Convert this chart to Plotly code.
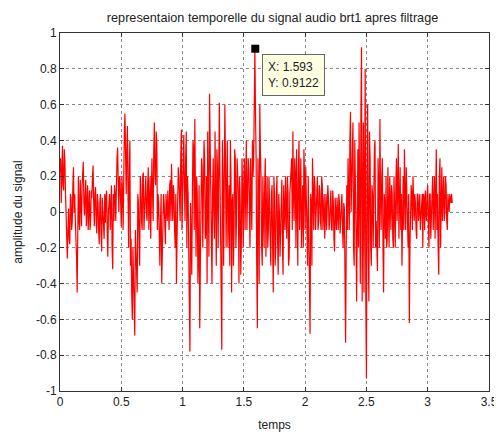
import numpy as np
import plotly.graph_objects as go

# signal audio filtre : echantillons tous les 10 ms
# plus les echantillons intermediaires (decales de 5 ms)
dt = 0.01
amplitude = [
    0.22, 0.05, 0.37, 0.12, 0.28, -0.05, -0.26, 0.02, -0.18, 0.08,
    -0.05, 0.25, 0.1, -0.12, -0.45, 0.2, -0.1, 0.05, 0.15, 0.28,
    -0.02, 0.18, 0.0, -0.1, 0.12, -0.05, 0.08, 0.26, -0.08, 0.14,
    -0.12, 0.05, -0.18, 0.1, -0.22, 0.02, -0.15, -0.06, 0.12, -0.25,
    0.05, -0.1, 0.15, -0.32, -0.05, 0.1, 0.2, 0.36, 0.0, 0.18,
    -0.08, 0.12, 0.3, 0.55, 0.1, 0.48, -0.2, 0.4, -0.15, -0.6,
    -0.35, -0.69, -0.2, -0.45, 0.05, -0.3, 0.15, -0.1, 0.22, 0.05,
    0.2, -0.05, 0.25, 0.1, -0.15, 0.3, -0.05, 0.5, 0.15, 0.38,
    0.1, -0.2, -0.05, -0.4, -0.12, 0.05, -0.18, 0.02, 0.12, -0.1,
    0.18, 0.27, -0.05, 0.1, -0.2, -0.4, 0.05, 0.2, -0.05, 0.46,
    0.1, 0.43, -0.05, 0.45, 0.2, -0.3, -0.78, -0.2, 0.1, 0.35,
    0.52, -0.25, 0.1, -0.25, -0.65, 0.05, 0.25, 0.1, 0.3, -0.1,
    -0.4, 0.2, 0.66, 0.15, -0.4, 0.3, -0.15, 0.1, 0.35, -0.2,
    0.61, -0.1, -0.77, 0.2, 0.55, 0.3, 0.1, -0.2, 0.15, 0.4,
    -0.45, 0.1, -0.1, 0.3, -0.05, 0.2, -0.4, 0.05, -0.15, 0.1,
    0.2, -0.1, 0.4, 0.05, 0.25, -0.2, 0.1, 0.4, 0.3, 0.91,
    0.3, -0.65, 0.1, 0.6, 0.2, -0.3, 0.05, 0.15, -0.25, 0.2,
    -0.1, 0.05, -0.3, 0.15, -0.45, 0.1, -0.2, 0.2, -0.35, 0.0,
    -0.1, 0.18, -0.35, 0.05, 0.2, -0.15, 0.1, -0.25, 0.15, 0.3,
    0.45, -0.05, 0.2, 0.35, -0.3, 0.4, 0.1, -0.2, 0.15, 0.35,
    -0.1, 0.1, -0.3, -0.15, -0.68, 0.05, 0.3, -0.1, 0.15, 0.05,
    0.2, -0.05, 0.12, -0.1, 0.15, 0.05, -0.15, 0.1, 0.0, 0.08,
    -0.05, 0.12, -0.1, 0.05, -0.22, 0.0, 0.08, -0.1, 0.05, -0.05,
    0.1, -0.2, 0.02, -0.73, 0.15, 0.3, -0.1, 0.56, 0.2, 0.5,
    -0.3, 0.2, -0.5, 0.35, 0.5, -0.4, 0.92, 0.1, -0.45, 0.8,
    -0.93, 0.6, -0.5, 0.3, -0.3, 0.1, 0.2, 0.4, -0.05, -0.33,
    0.15, 0.52, -0.1, 0.3, -0.45, 0.05, 0.2, -0.15, 0.1, 0.2,
    -0.1, 0.1, -0.2, 0.05, 0.15, -0.05, 0.38, 0.1, -0.1, -0.3,
    0.2, 0.35, -0.1, 0.1, -0.2, -0.62, 0.0, 0.1, 0.2, -0.05,
    0.05, -0.15, 0.1, 0.02, -0.1, 0.05, -0.2, 0.08, 0.12, -0.05,
    0.15, -0.2, 0.1, -0.05, 0.2, 0.05, -0.15, 0.35, 0.1, -0.35,
    0.3, 0.1, -0.05, 0.2, 0.0, 0.15, -0.1, 0.05, 0.1, 0.05,
    0.05,
]
amplitude_mid = [
    0.3, 0.2, 0.15, 0.35, 0.1, -0.2, -0.1, -0.15, 0.1, -0.1,
    0.15, 0.0, -0.05, -0.25, 0.0, -0.05, 0.18, -0.08, 0.2, 0.05,
    0.1, -0.08, 0.15, 0.05, -0.1, 0.12, 0.2, 0.05, 0.1, -0.05,
    0.1, -0.1, 0.05, -0.12, 0.08, -0.1, 0.1, 0.08, -0.1, 0.0,
    0.1, 0.08, -0.2, 0.1, 0.15, -0.05, 0.3, 0.1, 0.2, 0.05,
    0.2, -0.1, 0.45, 0.2, 0.35, 0.1, 0.25, -0.3, -0.45, -0.2,
    -0.55, -0.1, -0.35, 0.1, -0.15, 0.2, -0.05, 0.2, -0.1, 0.15,
    0.0, 0.15, -0.1, 0.2, 0.05, 0.1, 0.35, 0.2, 0.45, -0.1,
    0.05, -0.3, 0.1, -0.25, 0.1, -0.1, 0.1, -0.05, 0.05, 0.15,
    -0.05, 0.1, 0.15, -0.1, 0.1, -0.15, 0.25, 0.0, 0.3, -0.1,
    0.35, 0.15, 0.3, -0.2, 0.1, -0.5, 0.05, -0.35, 0.4, -0.1,
    0.1, 0.2, -0.4, 0.15, -0.3, 0.3, -0.2, 0.4, -0.15, 0.2,
    0.45, -0.25, 0.4, -0.2, 0.1, 0.0, 0.45, -0.3, 0.25, 0.5,
    0.2, -0.5, 0.4, -0.3, 0.6, -0.2, 0.4, 0.1, -0.3, 0.2,
    0.05, -0.3, 0.35, -0.2, 0.3, 0.1, 0.2, -0.35, 0.3, -0.2,
    0.3, 0.15, -0.1, 0.3, -0.1, 0.3, -0.1, 0.2, 0.5, 0.55,
    -0.3, 0.3, -0.4, 0.35, -0.2, 0.2, -0.2, 0.3, -0.1, -0.2,
    0.2, -0.25, 0.1, -0.2, 0.2, -0.3, 0.1, -0.15, 0.1, -0.25,
    0.1, -0.2, 0.15, -0.1, -0.1, 0.2, -0.3, 0.1, 0.25, -0.1,
    0.1, 0.3, -0.2, 0.05, 0.25, -0.1, 0.3, 0.1, -0.2, 0.2,
    0.25, -0.2, 0.2, -0.4, 0.1, -0.3, 0.1, 0.2, -0.1, 0.15,
    -0.1, 0.15, -0.05, 0.2, -0.1, 0.1, 0.05, -0.1, 0.15, -0.1,
    0.1, -0.1, 0.12, -0.15, 0.08, -0.1, 0.02, 0.1, -0.12, 0.1,
    -0.1, 0.05, -0.35, -0.2, -0.1, 0.1, 0.4, 0.0, 0.45, -0.2,
    0.4, -0.1, 0.1, -0.2, 0.1, 0.55, -0.5, 0.5, 0.3, -0.5,
    0.2, -0.2, 0.45, -0.2, 0.15, -0.2, 0.35, -0.2, -0.3, 0.3,
    -0.2, 0.1, 0.2, -0.2, 0.1, -0.15, -0.2, 0.25, -0.2, -0.1,
    0.15, -0.15, 0.2, -0.2, 0.3, 0.1, -0.15, 0.25, 0.1, 0.1,
    -0.1, 0.1, 0.25, -0.15, 0.1, -0.2, 0.15, -0.1, 0.05, 0.1,
    -0.1, 0.1, -0.05, 0.1, -0.05, 0.1, 0.1, -0.1, 0.0, 0.1,
    -0.05, 0.1, -0.15, 0.1, -0.1, 0.2, 0.1, -0.1, -0.2, 0.2,
    -0.2, 0.25, 0.1, -0.05, 0.2, -0.05, 0.1, 0.0, 0.05, 0.1,
]

# data tip matlab
tip_x = 1.593
tip_y = 0.9122

x_ticks = [0, 0.5, 1, 1.5, 2, 2.5, 3, 3.5]
y_ticks = [-1, -0.8, -0.6, -0.4, -0.2, 0, 0.2, 0.4, 0.6, 0.8, 1]

# on entrelace les deux series d'echantillons
t_a = np.arange(len(amplitude)) * dt
t_b = np.arange(len(amplitude_mid)) * dt + dt / 2
temps = np.concatenate([t_a, t_b])
valeurs = np.concatenate([amplitude, amplitude_mid])
ordre = np.argsort(temps)
temps, valeurs = temps[ordre], valeurs[ordre]

font = "Liberation Sans, Arial, sans-serif"

fig = go.Figure()
fig.add_trace(go.Scatter(x=temps, y=valeurs, mode="lines",
                         line=dict(color="#ff0000", width=1.2)))
fig.add_trace(go.Scatter(x=[tip_x], y=[tip_y], mode="markers",
                         marker=dict(symbol="square", size=8, color="black")))

fig.add_annotation(x=tip_x, y=tip_y, xref="x", yref="y", showarrow=False,
                   xanchor="left", yanchor="top", xshift=7, yshift=-5,
                   text=f"X: {tip_x}<br>Y: {tip_y}", align="left",
                   bgcolor="#ffffe1", bordercolor="#666", borderwidth=1, borderpad=5,
                   font=dict(family=font, size=12, color="#222"))

axis_style = dict(showline=True, linecolor="#333", linewidth=1, mirror="ticks",
                  ticks="inside", ticklen=4, tickcolor="#333", automargin=False,
                  showgrid=True, gridcolor="#888", griddash="dot", gridwidth=1,
                  zeroline=False, tickfont=dict(family=font, size=12, color="#222"))

fig.update_xaxes(range=[0, 3.5], tickvals=x_ticks, ticktext=[str(v) for v in x_ticks],
                 title=dict(text="temps", font=dict(family=font, size=12, color="#222"), standoff=12),
                 **axis_style)
fig.update_yaxes(range=[-1, 1], tickvals=y_ticks, ticktext=[f"{v:g}" for v in y_ticks],
                 title=dict(text="amplitude du signal", font=dict(family=font, size=12, color="#222"), standoff=10),
                 **axis_style)

# la page ajoute ~8 px de marge, on compense dans les marges de la figure
fig.update_layout(
    width=502, height=439,
    margin=dict(l=52, r=21, t=25, b=56, autoexpand=False),
    paper_bgcolor="white", plot_bgcolor="white",
    showlegend=False,
    title=dict(text="representaion temporelle du signal audio brt1 apres filtrage",
               x=0.527, xanchor="center", y=0.979, yanchor="middle",
               font=dict(family=font, size=12.7, color="#222")),
)

fig.write_html("out.html")
